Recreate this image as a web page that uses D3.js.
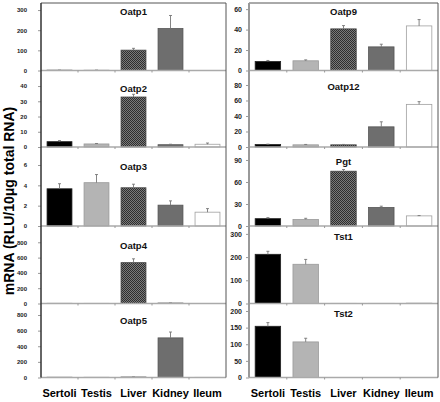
<!DOCTYPE html>
<html>
<head>
<meta charset="utf-8">
<script src="https://cdn.jsdelivr.net/npm/d3@7"></script>
<style>
  html, body { margin: 0; padding: 0; background: #fff; }
  svg { display: block; font-family: "Liberation Sans", Arial, sans-serif; }
</style>
</head>
<body>
<svg id="chart" width="440" height="402"></svg>
<script>
// ---------------- DATA ----------------
const categories = ["Sertoli", "Testis", "Liver", "Kidney", "Ileum"];

const leftPanels  = ["Oatp1", "Oatp2", "Oatp3", "Oatp4", "Oatp5"];
const rightPanels = ["Oatp9", "Oatp12", "Pgt", "Tst1", "Tst2"];

const oatp1  = [1.5, 1.5, 101, 208, 0.5];
const oatp1Err = [0.5, 0.5, 9, 65, 0];
const oatp2  = [3.5, 2.0, 32.8, 1.5, 1.8];
const oatp2Err = [0.7, 0.3, 1.8, 0.3, 0.8];
const oatp3  = [3.66, 4.26, 3.76, 2.05, 1.36];
const oatp3Err = [0.5, 0.8, 0.35, 0.42, 0.35];
const oatp4  = [2, 2, 534, 6, 1];
const oatp4Err = [0, 0, 50, 1, 0];
const oatp5  = [3, 3, 6, 507, 2];
const oatp5Err = [0, 0, 1, 75, 0];

const oatp9  = [8.8, 9.5, 40.7, 23.1, 43.6];
const oatp9Err = [1.0, 0.9, 3.2, 2.6, 6.2];
const oatp12 = [3.2, 2.8, 2.8, 26, 55];
const oatp12Err = [0.5, 0.5, 0.5, 6.5, 3.5];
const pgt    = [10, 9, 74.7, 25.2, 13.8];
const pgtErr = [1.4, 1.5, 2.3, 1.8, 0.4];
const tst1   = [212, 169, 0.5, 0.5, 1.5];
const tst1Err = [13, 21, 0, 0, 0];
const tst2   = [154, 107, 0, 0, 0];
const tst2Err = [11, 11, 0, 0, 0];

const leftValues  = [oatp1, oatp2, oatp3, oatp4, oatp5];
const leftErrors  = [oatp1Err, oatp2Err, oatp3Err, oatp4Err, oatp5Err];
const rightValues = [oatp9, oatp12, pgt, tst1, tst2];
const rightErrors = [oatp9Err, oatp12Err, pgtErr, tst1Err, tst2Err];

const leftTicks  = [[0,100,200,300],[0,10,20,30,40],[0,2,4,6],[0,200,400,600,800],[0,200,400,600,800]];
const rightTicks = [[0,20,40,60],[0,20,40,60,80],[0,30,60,90],[0,100,200,300],[0,50,100,150,200]];
const leftMax  = [335, 50.2, 7.77, 1013, 947];
const rightMax = [66, 98.7, 107.7, 334, 222.5];

const yLabel = "mRNA (RLU/10\u03bcg total RNA)";

// ---------------- LAYOUT ----------------
const svg = d3.select("#chart");
const topY = 3;
const panelBottoms = [70.5, 147, 226, 303.5, 377.5];
const leftTitleY  = [12, 89, 167, 246, 321];
const rightTitleY = [12, 87, 162, 237, 314];
const fills = ["#000000", "#b4b4b4", "url(#hatch)", "#6e6e6e", "#ffffff"];
const strokes = ["#222", "#9a9a9a", "#444", "#555", "#a0a0a0"];

const defs = svg.append("defs");
const pat = defs.append("pattern").attr("id", "hatch")
  .attr("patternUnits", "userSpaceOnUse").attr("width", 2).attr("height", 2);
pat.append("rect").attr("width", 2).attr("height", 2).attr("fill", "#7a7a7a");
pat.append("rect").attr("width", 1).attr("height", 1).attr("fill", "#2e2e2e");
pat.append("rect").attr("x", 1).attr("y", 1).attr("width", 1).attr("height", 1).attr("fill", "#2e2e2e");

function drawColumn(x0, x1, names, values, errors, ticks, maxes, titleYs, opts) {
  const x = d3.scaleBand().domain(categories).range([x0, x1]).paddingInner(0.3).paddingOuter(0.15);
  const g = svg.append("g");

  names.forEach((name, i) => {
    const top = i === 0 ? topY : panelBottoms[i - 1];
    const bottom = panelBottoms[i];
    const y = d3.scaleLinear().domain([0, maxes[i]]).range([bottom, top]);
    const pg = g.append("g");

    const ax = d3.axisLeft(y).tickValues(ticks[i]).tickSize(3).tickPadding(opts.tickPad).tickFormat(d3.format("d"));
    const axg = pg.append("g").attr("transform", `translate(${x0},0)`).call(ax);
    axg.select(".domain").remove();
    axg.selectAll(".tick line").attr("stroke", "#999");
    axg.selectAll(".tick text").attr("font-size", opts.tickFont).attr("font-weight", "bold").attr("fill", "#222");

    const data = categories.map((c, k) => ({ c, v: values[i][k], e: errors[i][k], k }));
    pg.selectAll("rect.bar").data(data).join("rect")
      .attr("class", "bar")
      .attr("x", d => x(d.c) + 0.5)
      .attr("width", x.bandwidth() - 1)
      .attr("y", d => y(d.v))
      .attr("height", d => Math.max(0, y(0) - y(d.v)))
      .attr("fill", d => fills[d.k])
      .attr("stroke", d => strokes[d.k])
      .attr("stroke-width", 0.8);

    const eb = data.filter(d => d.e > 0);
    pg.selectAll("line.err").data(eb).join("line")
      .attr("class", "err")
      .attr("x1", d => x(d.c) + x.bandwidth() / 2)
      .attr("x2", d => x(d.c) + x.bandwidth() / 2)
      .attr("y1", d => y(d.v))
      .attr("y2", d => y(d.v + d.e))
      .attr("stroke", "#777").attr("stroke-width", 0.9);
    pg.selectAll("line.cap").data(eb).join("line")
      .attr("class", "cap")
      .attr("x1", d => x(d.c) + x.bandwidth() / 2 - 1.5)
      .attr("x2", d => x(d.c) + x.bandwidth() / 2 + 1.5)
      .attr("y1", d => y(d.v + d.e))
      .attr("y2", d => y(d.v + d.e))
      .attr("stroke", "#777").attr("stroke-width", 0.9);

    pg.append("line").attr("x1", x0).attr("x2", x1).attr("y1", y(0)).attr("y2", y(0))
      .attr("stroke", "#aaa").attr("stroke-width", 1.3);
    const step = x.step();
    d3.range(1, categories.length).forEach(k => {
      pg.append("line").attr("x1", x0 + k * step).attr("x2", x0 + k * step)
        .attr("y1", y(0)).attr("y2", y(0) + 2).attr("stroke", "#999").attr("stroke-width", 1);
    });

    pg.append("text").attr("x", (x0 + x1) / 2).attr("y", titleYs[i])
      .attr("text-anchor", "middle").attr("dominant-baseline", "middle")
      .attr("font-size", 9.5).attr("font-weight", "bold").attr("fill", "#111").text(name);
  });

  g.append("line").attr("x1", x0).attr("x2", x1).attr("y1", topY).attr("y2", topY).attr("stroke", "#555").attr("stroke-width", 1);
  g.append("line").attr("x1", x1).attr("x2", x1).attr("y1", topY).attr("y2", panelBottoms[4]).attr("stroke", "#555").attr("stroke-width", 1);
  g.append("line").attr("x1", x0).attr("x2", x0).attr("y1", topY).attr("y2", panelBottoms[4])
    .attr("stroke", opts.axisColor).attr("stroke-width", opts.axisWidth);

  g.selectAll("text.cat").data(categories).join("text")
    .attr("class", "cat")
    .attr("x", d => x(d) + x.bandwidth() / 2)
    .attr("y", 397)
    .attr("text-anchor", "middle")
    .attr("font-size", 11).attr("font-weight", "bold").attr("fill", "#000")
    .text(d => d);
}

drawColumn(41, 226, leftPanels, leftValues, leftErrors, leftTicks, leftMax, leftTitleY,
  { tickFont: 6, tickPad: 11, axisColor: "#333", axisWidth: 1.5 });
drawColumn(249, 438, rightPanels, rightValues, rightErrors, rightTicks, rightMax, rightTitleY,
  { tickFont: 7, tickPad: 4, axisColor: "#999", axisWidth: 2 });

svg.append("text")
  .attr("transform", "translate(10,201) rotate(-90)")
  .attr("text-anchor", "middle").attr("dominant-baseline", "middle")
  .attr("font-size", 14).attr("font-weight", "bold").attr("fill", "#000")
  .text(yLabel);
</script>
</body>
</html>
